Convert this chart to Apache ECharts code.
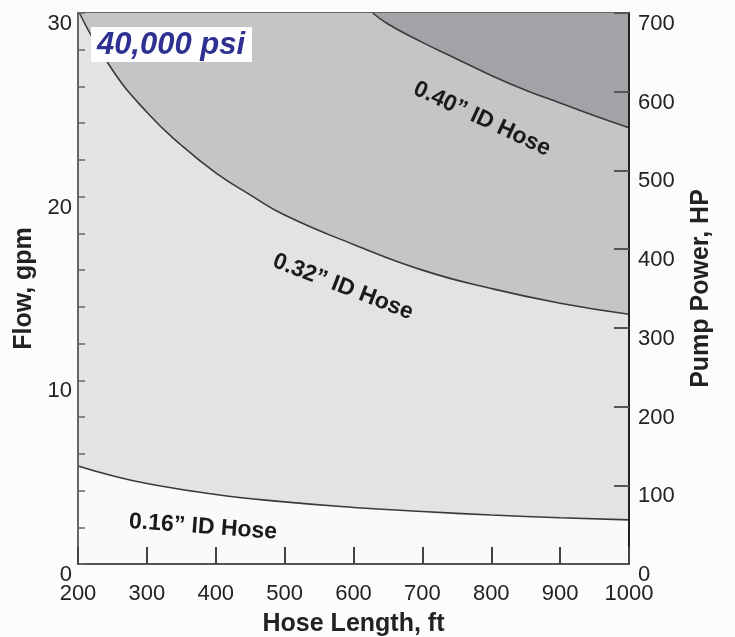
<!DOCTYPE html>
<html>
<head>
<meta charset="utf-8">
<script src="https://cdn.jsdelivr.net/npm/echarts@6/dist/echarts.min.js"></script>
<style>
html,body{margin:0;padding:0;background:#fcfcfc;}
#c{width:735px;height:637px;}
</style>
</head>
<body>
<div id="c"></div>
<script>
// Hose length (ft) / flow (gpm) pairs
const hose016 = [[200,5.33],[250,4.8],[300,4.38],[400,3.78],[500,3.38],[600,3.08],[700,2.86],[800,2.67],[900,2.52],[1000,2.4]];
const hose032 = [[202,30],[250,26.9],[300,24.6],[350,22.8],[400,21.3],[450,20.1],[500,19.0],[600,17.4],[700,16.0],[800,15.0],[900,14.2],[1000,13.6]];
const hose040 = [[628,30],[650,29.4],[700,28.4],[750,27.5],[800,26.6],[850,25.8],[900,25.1],[950,24.4],[1000,23.75]];
const xTicks = [200,1000,100];
const flowTicks = [0,30,10];
const powerTicks = [0,700,100];
const labels = ['0.16\u201D ID Hose','0.32\u201D ID Hose','0.40\u201D ID Hose'];
const pressureLabel = '40,000 psi';

const FONT = 'Liberation Sans, Arial, Helvetica, sans-serif';
const chart = echarts.init(document.getElementById('c'));
const lineColor = '#3a3a3a';
function curve(data, fill){
  return {type:'line', data:data, smooth:0.5, symbol:'none', yAxisIndex:0,
    lineStyle:{color:lineColor,width:1.6},
    areaStyle:{origin:'end',color:fill,opacity:1}, z:2};
}
const nameStyle = {fontFamily:FONT,fontWeight:'bold',fontSize:25,color:'#222'};
chart.setOption({
  backgroundColor:'#fcfcfc',
  animation:false,
  grid:{left:78,right:106,top:13,bottom:73,show:true,backgroundColor:'#fafafa',borderColor:'#666',borderWidth:2,
    containLabel:false,outerBoundsMode:'none'},
  xAxis:{type:'value',min:xTicks[0],max:xTicks[1],interval:xTicks[2],z:5,
    name:'Hose Length, ft',nameLocation:'middle',nameGap:48,nameTextStyle:nameStyle,
    axisLine:{show:true,lineStyle:{color:'#555',width:2}},
    axisTick:{show:true,inside:true,length:17,lineStyle:{color:'#444',width:2}},
    axisLabel:{fontFamily:FONT,fontSize:22,color:'#222',margin:19,formatter:function(v){return String(v);}},
    splitLine:{show:false}},
  yAxis:[{type:'value',min:flowTicks[0],max:flowTicks[1],interval:2,position:'left',z:5,
    name:'Flow, gpm',nameLocation:'middle',nameGap:41,nameRotate:90,nameTextStyle:nameStyle,
    axisLine:{show:true,lineStyle:{color:'#666',width:2}},
    axisTick:{show:true,inside:true,length:7,interval:0,lineStyle:{color:'#666',width:1.5}},
    axisLabel:{fontFamily:FONT,fontSize:22,color:'#222',margin:6,interval:0,verticalAlign:'top',
      formatter:function(v){return v % flowTicks[2]===0 ? String(v) : '';}},
    splitLine:{show:false}},
   {type:'value',min:powerTicks[0],max:powerTicks[1],interval:powerTicks[2],position:'right',z:5,
    name:'Pump Power, HP',nameLocation:'middle',nameGap:60,nameRotate:90,nameTextStyle:nameStyle,
    axisLine:{show:true,lineStyle:{color:'#222',width:2}},
    axisTick:{show:true,inside:true,length:15,interval:0,lineStyle:{color:'#555',width:2}},
    axisLabel:{fontFamily:FONT,fontSize:22,color:'#222',margin:9,interval:0,verticalAlign:'top'},
    splitLine:{show:false}}],
  series:[
    curve(hose016,'#e2e3e5'),
    curve(hose032,'#c4c5c7'),
    curve(hose040,'#a2a3a6')
  ],
  graphic:[
    {type:'rect',left:91,top:27,shape:{width:161,height:35},style:{fill:'#ffffff'},z:10},
    {type:'text',x:171,y:45,z:11,style:{text:pressureLabel,fontFamily:FONT,fontWeight:'bold',fontStyle:'italic',fontSize:31,fill:'#2e3192',align:'center',verticalAlign:'middle'}},
    {type:'text',x:203,y:527,rotation:-4.2*Math.PI/180,z:11,style:{text:labels[0],fontFamily:FONT,fontWeight:'bold',fontSize:23,fill:'#1a1a1a',align:'center',verticalAlign:'middle'}},
    {type:'text',x:343,y:287,rotation:-21*Math.PI/180,z:11,style:{text:labels[1],fontFamily:FONT,fontWeight:'bold',fontSize:23,fill:'#1a1a1a',align:'center',verticalAlign:'middle'}},
    {type:'text',x:482,y:119,rotation:-25*Math.PI/180,z:11,style:{text:labels[2],fontFamily:FONT,fontWeight:'bold',fontSize:23,fill:'#1a1a1a',align:'center',verticalAlign:'middle'}}
  ]
});
</script>
</body>
</html>
